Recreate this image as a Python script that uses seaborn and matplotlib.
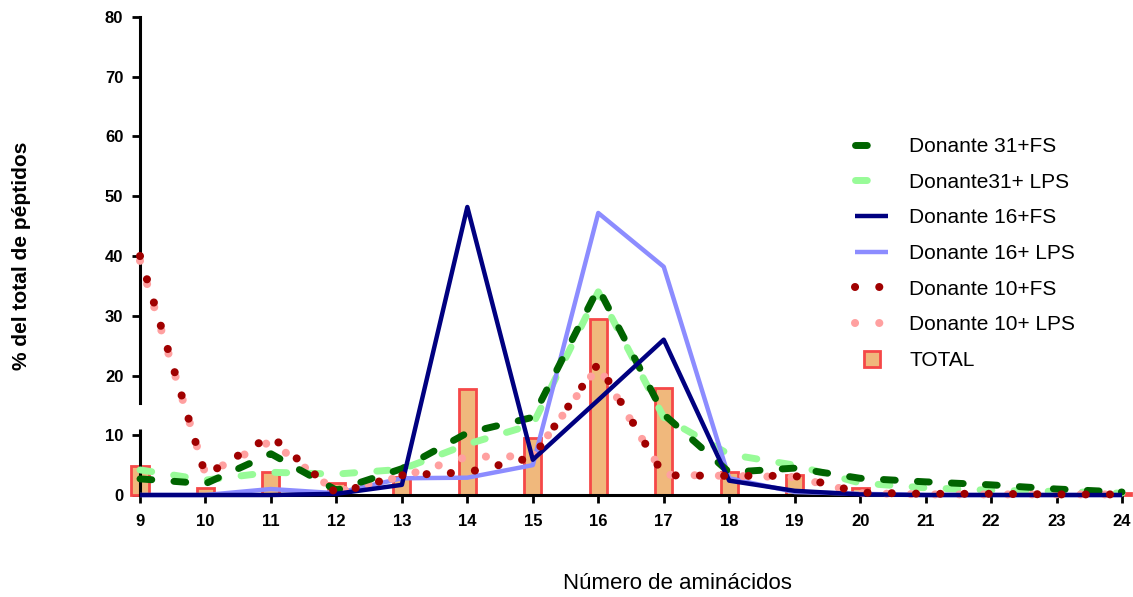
import matplotlib
matplotlib.use("Agg")
import matplotlib.pyplot as plt
import seaborn as sns
from matplotlib.lines import Line2D

# ---- data ----
aminoacidos = list(range(9, 25))
donante31_fs = [2.7, 1.9, 6.9, 0.8, 4.4, 10.4, 13.0, 34.6, 13.5, 3.8, 4.5, 2.8, 2.2, 1.7, 1.0, 0.5]
donante31_lps = [4.2, 2.5, 3.8, 3.5, 4.3, 8.5, 11.8, 34.0, 13.0, 6.8, 5.0, 2.0, 1.2, 0.8, 0.6, 0.3]
donante16_fs = [0.0, 0.0, 0.0, 0.2, 1.7, 48.2, 5.9, 15.9, 26.0, 2.4, 0.7, 0.1, 0.0, 0.0, 0.0, 0.0]
donante16_lps = [0.0, 0.0, 1.0, 0.3, 2.8, 2.9, 5.0, 47.2, 38.2, 2.8, 0.5, 0.2, 0.0, 0.0, 0.0, 0.0]
donante10_fs = [40.0, 3.3, 9.9, 0.3, 3.3, 3.8, 6.3, 22.0, 3.3, 3.2, 3.2, 0.4, 0.2, 0.2, 0.1, 0.1]
donante10_lps = [39.2, 3.5, 9.0, 0.5, 3.1, 6.4, 6.5, 21.5, 3.4, 3.2, 3.0, 0.3, 0.1, 0.1, 0.1, 0.1]
total = [4.9, 1.2, 3.8, 2.0, 3.0, 17.7, 9.6, 29.4, 17.9, 3.8, 3.3, 1.2, 0.2, 0.2, 0.1, 0.3]

labels = ["Donante 31+FS", "Donante31+ LPS", "Donante 16+FS", "Donante 16+ LPS",
          "Donante 10+FS", "Donante 10+ LPS", "TOTAL"]

sns.set_style("ticks")
plt.rcParams['font.family'] = ['Liberation Sans', 'DejaVu Sans']
for k in ("text.color", "axes.labelcolor", "xtick.color", "ytick.color", "axes.edgecolor"):
    plt.rcParams[k] = "black"

fig = plt.figure(figsize=(11.33, 5.97), dpi=100)
ax = fig.add_axes([140 / 1133, 102 / 597, 982 / 1133, 478 / 597])

bar_face = "#f0b87c"
bar_edge = "#f54848"
sns.barplot(x=aminoacidos, y=total, native_scale=True, width=0.26, color=bar_face,
            edgecolor=bar_edge, linewidth=2, saturation=1, ax=ax, zorder=1)
for p in ax.patches:
    p.set_clip_on(False)

dash_pat = (0, (1.7, 3.2))
dot_pat = (0, (0.01, 3.0))
series = [
    (donante31_fs, "#006400", 5.0, dash_pat),
    (donante31_lps, "#98fb98", 5.0, dash_pat),
    (donante16_fs, "#000080", 3.2, "-"),
    (donante16_lps, "#8c8cff", 3.2, "-"),
    (donante10_fs, "#a00000", 5.8, dot_pat),
    (donante10_lps, "#ffa0a0", 5.8, dot_pat),
]
handles = [None] * 6
for i in range(6):
    vals, color, lw, ls = series[i]
    sns.lineplot(x=aminoacidos, y=vals, color=color, linewidth=lw, linestyle=ls,
                 errorbar=None, ax=ax, zorder=3 + (1 if i in (0, 2, 4) else 0))
    line = ax.lines[-1]
    line.set_linewidth(lw)
    line.set_linestyle(ls)
    line.set_dash_capstyle("round")
    line.set_solid_capstyle("round" if ls != "-" else "butt")
    line.set_clip_on(False)
    handles[i] = line

bar_handle = Line2D([], [], ls="none", marker="s", markersize=12,
                    markerfacecolor=bar_face, markeredgecolor=bar_edge, markeredgewidth=2)

ax.set_xlim(9, 24)
ax.set_ylim(0, 80)
ax.set_xticks(aminoacidos)
ax.set_yticks(range(0, 81, 10))
ax.tick_params(axis="both", direction="out", length=6, width=2, labelsize=12, color="black",
               labelcolor="black")
ax.tick_params(axis="x", pad=8)
ax.tick_params(axis="y", pad=6)
for lab in ax.get_xticklabels() + ax.get_yticklabels():
    lab.set_fontweight("bold")

sns.despine(ax=ax)
for s in ("left", "bottom"):
    ax.spines[s].set_linewidth(2.2)
    ax.spines[s].set_color("black")
ax.spines["left"].set_bounds(15.4, 80)
ax.plot([0, 0], [0, 11], transform=ax.get_yaxis_transform(), color="black",
        lw=2.2, clip_on=False, zorder=2.5, solid_capstyle="butt")

ax.set_ylabel("% del total de péptidos", fontsize=15, fontweight="bold")
ax.yaxis.set_label_coords(-0.111, 0.5)
ax.set_xlabel("Número de aminácidos", fontsize=16)
ax.xaxis.set_label_coords(0.547, -0.163)

leg = ax.legend(handles + [bar_handle], labels, loc="upper left",
                bbox_to_anchor=(855 / 1133, 1 - 137 / 597), bbox_transform=fig.transFigure,
                frameon=False, fontsize=15, handlelength=1.6, handletextpad=1.0,
                labelspacing=0.8, borderpad=0, borderaxespad=0)

fig.savefig("out.png", dpi=100)
